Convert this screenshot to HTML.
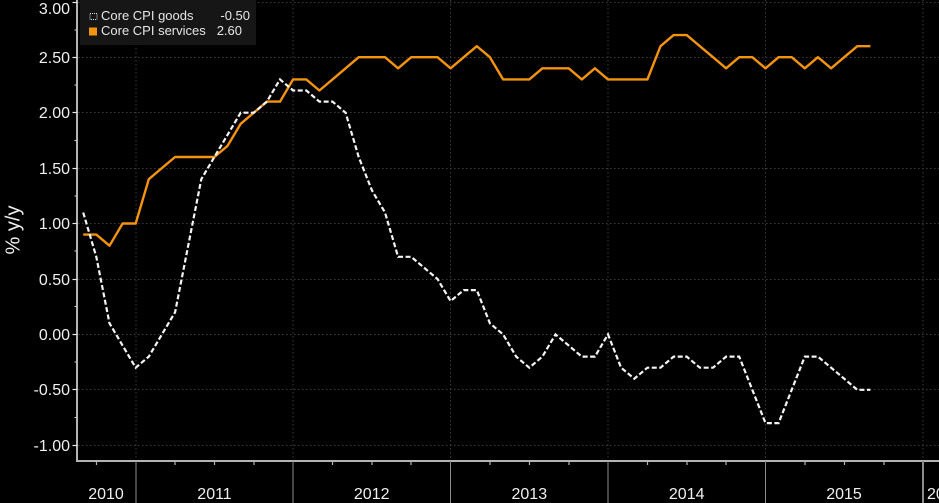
<!DOCTYPE html>
<html>
<head>
<meta charset="utf-8">
<style>
  html, body { margin: 0; padding: 0; background: #000; }
  body { width: 939px; height: 503px; overflow: hidden; }
  svg { display: block; }
  text { font-family: "Liberation Sans", Arial, sans-serif; }
</style>
</head>
<body>
<svg width="939" height="503" viewBox="0 0 939 503" xmlns="http://www.w3.org/2000/svg">
  <rect x="0" y="0" width="939" height="503" fill="#000"/>

  <!-- horizontal dotted gridlines -->
  <g stroke="#3c3c3c" stroke-width="1" stroke-dasharray="1.5 2.5" fill="none">
    <line x1="78" y1="2.5" x2="939" y2="2.5"/>
    <line x1="78" y1="57.5" x2="939" y2="57.5"/>
    <line x1="78" y1="112.5" x2="939" y2="112.5"/>
    <line x1="78" y1="168.5" x2="939" y2="168.5"/>
    <line x1="78" y1="223.5" x2="939" y2="223.5"/>
    <line x1="78" y1="279.5" x2="939" y2="279.5"/>
    <line x1="78" y1="334.5" x2="939" y2="334.5"/>
    <line x1="78" y1="389.5" x2="939" y2="389.5"/>
    <line x1="78" y1="445.5" x2="939" y2="445.5"/>
    <!-- vertical year gridlines -->
    <line x1="136" y1="0" x2="136" y2="460"/>
    <line x1="293" y1="0" x2="293" y2="460"/>
    <line x1="450.5" y1="0" x2="450.5" y2="460"/>
    <line x1="608" y1="0" x2="608" y2="460"/>
    <line x1="765.5" y1="0" x2="765.5" y2="460"/>
    <line x1="923" y1="0" x2="923" y2="460"/>
  </g>

  <!-- legend -->
  <rect x="80" y="0" width="176" height="45" fill="#161616"/>
  <rect x="90" y="13.5" width="7" height="6" fill="none" stroke="#e0e0e0" stroke-width="1" stroke-dasharray="1 1"/>
  <rect x="89" y="27.5" width="8" height="8" fill="#f4930f"/>
  <text x="101" y="20" font-size="13" fill="#e6e6e6">Core CPI goods</text>
  <text x="250" y="20" font-size="13" fill="#e6e6e6" text-anchor="end">-0.50</text>
  <text x="101" y="35" font-size="13" fill="#e6e6e6">Core CPI services</text>
  <text x="242" y="35" font-size="13" fill="#e6e6e6" text-anchor="end">2.60</text>

  <!-- Core CPI services -->
  <polyline fill="none" stroke="#f4930f" stroke-width="2.4" stroke-linejoin="round"
    points="83.2,234.6 96.3,234.6 109.5,245.7 122.6,223.5 135.7,223.5 148.8,179.2 161.9,168.1 175.1,157.0 188.2,157.0 201.3,157.0 214.4,157.0 227.5,145.9 240.7,123.8 253.8,112.7 266.9,101.6 280.0,101.6 293.1,79.4 306.3,79.4 319.4,90.5 332.5,79.4 345.6,68.3 358.7,57.2 371.9,57.2 385.0,57.2 398.1,68.3 411.2,57.2 424.3,57.2 437.5,57.2 450.6,68.3 463.7,57.2 476.8,46.2 489.9,57.2 503.1,79.4 516.2,79.4 529.3,79.4 542.4,68.3 555.5,68.3 568.7,68.3 581.8,79.4 594.9,68.3 608.0,79.4 621.1,79.4 634.3,79.4 647.4,79.4 660.5,46.2 673.6,35.1 686.7,35.1 699.9,46.2 713.0,57.2 726.1,68.3 739.2,57.2 752.3,57.2 765.5,68.3 778.6,57.2 791.7,57.2 804.8,68.3 817.9,57.2 831.1,68.3 844.2,57.2 857.3,46.2 870.4,46.2"/>

  <!-- Core CPI goods -->
  <polyline fill="none" stroke="#f4f4f4" stroke-width="2.2" stroke-dasharray="5 2.5"
    points="83.2,212.5 96.3,256.8 109.5,323.3 122.6,345.5 135.7,367.7 148.8,356.6 161.9,334.4 175.1,312.2 188.2,245.7 201.3,179.2 214.4,157.0 227.5,134.9 240.7,112.7 253.8,112.7 266.9,101.6 280.0,79.4 293.1,90.5 306.3,90.5 319.4,101.6 332.5,101.6 345.6,112.7 358.7,157.0 371.9,190.3 385.0,212.5 398.1,256.8 411.2,256.8 424.3,267.9 437.5,279.0 450.6,301.1 463.7,290.1 476.8,290.1 489.9,323.3 503.1,334.4 516.2,356.6 529.3,367.7 542.4,356.6 555.5,334.4 568.7,345.5 581.8,356.6 594.9,356.6 608.0,334.4 621.1,367.7 634.3,378.7 647.4,367.7 660.5,367.7 673.6,356.6 686.7,356.6 699.9,367.7 713.0,367.7 726.1,356.6 739.2,356.6 752.3,389.8 765.5,423.1 778.6,423.1 791.7,389.8 804.8,356.6 817.9,356.6 831.1,367.7 844.2,378.7 857.3,389.8 870.4,389.8"/>

  <!-- axes -->
  <line x1="77" y1="0" x2="77" y2="462" stroke="#b4b4b4" stroke-width="2"/>
  <line x1="76" y1="461" x2="939" y2="461" stroke="#b4b4b4" stroke-width="2"/>

  <!-- y major ticks -->
  <g stroke="#e8e8e8" stroke-width="1.2">
    <line x1="72.5" y1="2.5" x2="77" y2="2.5"/>
    <line x1="72.5" y1="57.5" x2="77" y2="57.5"/>
    <line x1="72.5" y1="112.5" x2="77" y2="112.5"/>
    <line x1="72.5" y1="168.5" x2="77" y2="168.5"/>
    <line x1="72.5" y1="223.5" x2="77" y2="223.5"/>
    <line x1="72.5" y1="279.5" x2="77" y2="279.5"/>
    <line x1="72.5" y1="334.5" x2="77" y2="334.5"/>
    <line x1="72.5" y1="389.5" x2="77" y2="389.5"/>
    <line x1="72.5" y1="445.5" x2="77" y2="445.5"/>
  </g>
  <!-- y minor ticks -->
  <g stroke="#d0d0d0" stroke-width="1">
    <line x1="74.5" y1="30" x2="77" y2="30"/>
    <line x1="74.5" y1="85" x2="77" y2="85"/>
    <line x1="74.5" y1="140.5" x2="77" y2="140.5"/>
    <line x1="74.5" y1="196" x2="77" y2="196"/>
    <line x1="74.5" y1="251" x2="77" y2="251"/>
    <line x1="74.5" y1="306.5" x2="77" y2="306.5"/>
    <line x1="74.5" y1="362" x2="77" y2="362"/>
    <line x1="74.5" y1="417.5" x2="77" y2="417.5"/>
  </g>

  <!-- y labels -->
  <g font-size="16" fill="#f0f0f0" text-anchor="end">
    <text x="70" y="14">3.00</text>
    <text x="70" y="63">2.50</text>
    <text x="70" y="118">2.00</text>
    <text x="70" y="174">1.50</text>
    <text x="70" y="229">1.00</text>
    <text x="70" y="285">0.50</text>
    <text x="70" y="340">0.00</text>
    <text x="70" y="395">-0.50</text>
    <text x="70" y="451">-1.00</text>
  </g>

  <!-- y title -->
  <text transform="translate(19.5,230) rotate(-90)" text-anchor="middle" font-size="20" fill="#f0f0f0">% y/y</text>

  <!-- x quarter ticks -->
  <g stroke="#b4b4b4" stroke-width="1.2">
    <line x1="96.5" y1="462" x2="96.5" y2="465"/>
    <line x1="175" y1="462" x2="175" y2="465"/>
    <line x1="214.5" y1="462" x2="214.5" y2="465"/>
    <line x1="254" y1="462" x2="254" y2="465"/>
    <line x1="332.5" y1="462" x2="332.5" y2="465"/>
    <line x1="372" y1="462" x2="372" y2="465"/>
    <line x1="411" y1="462" x2="411" y2="465"/>
    <line x1="490" y1="462" x2="490" y2="465"/>
    <line x1="529.5" y1="462" x2="529.5" y2="465"/>
    <line x1="569" y1="462" x2="569" y2="465"/>
    <line x1="647.5" y1="462" x2="647.5" y2="465"/>
    <line x1="687" y1="462" x2="687" y2="465"/>
    <line x1="726" y1="462" x2="726" y2="465"/>
    <line x1="805" y1="462" x2="805" y2="465"/>
    <line x1="844.5" y1="462" x2="844.5" y2="465"/>
    <line x1="884" y1="462" x2="884" y2="465"/>
  </g>

  <!-- year separators -->
  <g stroke="#8c8c8c" stroke-width="1">
    <line x1="136" y1="461" x2="136" y2="503"/>
    <line x1="293" y1="461" x2="293" y2="503"/>
    <line x1="450.5" y1="461" x2="450.5" y2="503"/>
    <line x1="608" y1="461" x2="608" y2="503"/>
    <line x1="765.5" y1="461" x2="765.5" y2="503"/>
  </g>
  <line x1="923" y1="461" x2="923" y2="503" stroke="#8c8c8c" stroke-width="2"/>

  <!-- x labels -->
  <g font-size="16" fill="#f0f0f0" text-anchor="middle">
    <text x="106" y="499">2010</text>
    <text x="214.5" y="499">2011</text>
    <text x="371.7" y="499">2012</text>
    <text x="529.3" y="499">2013</text>
    <text x="686.7" y="499">2014</text>
    <text x="844" y="499">2015</text>
  </g>
  <text x="927" y="499" font-size="16" fill="#f0f0f0">2016</text>
</svg>
</body>
</html>
